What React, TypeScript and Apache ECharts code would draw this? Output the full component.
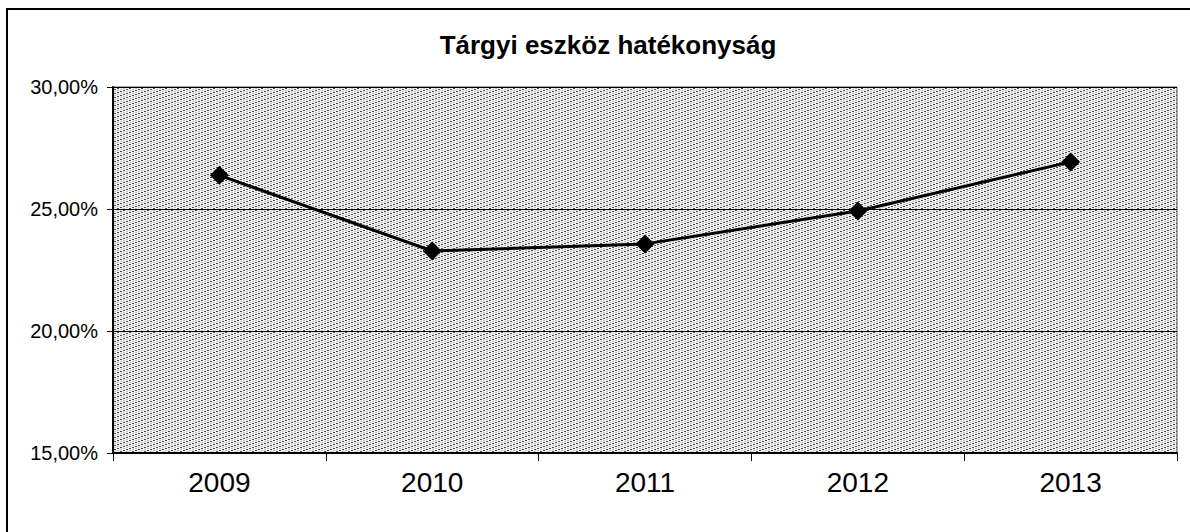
import React, { useEffect, useRef } from "react";
import * as echarts from "echarts";

const title = "Tárgyi eszköz hatékonyság";
const years = ["2009", "2010", "2011", "2012", "2013"];
const values = [26.38, 23.28, 23.57, 24.92, 26.93];
const yMin = 15;
const yMax = 30;
const yStep = 5;

function makePattern(): string {
  const c = document.createElement("canvas");
  c.width = 12;
  c.height = 4;
  const ctx = c.getContext("2d")!;
  ctx.fillStyle = "#f2f2f2";
  ctx.fillRect(0, 0, 12, 4);
  ctx.fillStyle = "#4a4a4a";
  for (let r = 0; r < 4; r++) {
    const x0 = (3 - r) * 3;
    ctx.fillRect(x0, r, 2, 1);
  }
  ctx.fillStyle = "#c0c0c0";
  for (let r = 0; r < 4; r++) {
    const x0 = ((3 - r) * 3 + 6) % 12;
    ctx.fillRect(x0, r, 2, 1);
  }
  return c.toDataURL();
}

export default function App() {
  const ref = useRef<HTMLDivElement>(null);
  useEffect(() => {
    document.body.style.margin = "0";
    const chart = echarts.init(ref.current!, undefined, { renderer: "svg" });
    const pattern = makePattern();
    chart.setOption({
      animation: false,
      backgroundColor: "#ffffff",
      textStyle: { fontFamily: "Liberation Sans, Arial, sans-serif" },
      title: {
        text: title,
        left: 603,
        top: 27,
        textAlign: "center",
        textStyle: { fontSize: 26, fontWeight: "bold", color: "#000", fontFamily: "Liberation Sans, Arial, sans-serif" },
      },
      graphic: [
        {
          type: "rect",
          shape: { x: 7, y: 9, width: 1250, height: 700 },
          style: { fill: "none", stroke: "#000", lineWidth: 2 },
          silent: true,
        },
      ],
      grid: {
        left: 113,
        top: 87,
        right: 13,
        bottom: 79,
        show: true,
        backgroundColor: { image: pattern, repeat: "repeat" },
        borderColor: "#555",
        borderWidth: 1,
      },
      xAxis: {
        type: "category",
        data: years,
        boundaryGap: true,
        axisLine: { show: true, lineStyle: { color: "#000", width: 2 } },
        axisTick: { show: true, length: 8, lineStyle: { color: "#000", width: 1 } },
        axisLabel: { fontSize: 28, color: "#000", margin: 15 },
        splitLine: { show: false },
      },
      yAxis: {
        type: "value",
        min: yMin,
        max: yMax,
        interval: yStep,
        axisLine: { show: true, lineStyle: { color: "#000", width: 2 } },
        axisTick: { show: true, inside: false, length: 6, lineStyle: { color: "#000" } },
        axisLabel: {
          fontSize: 20,
          color: "#000",
          margin: 15,
          formatter: (v: number) => v.toFixed(2).replace(".", ",") + "%",
        },
        splitLine: { show: true, lineStyle: { color: "#000", width: 1 } },
      },
      series: [
        {
          type: "line",
          data: values,
          symbol: "diamond",
          symbolSize: 19,
          lineStyle: { color: "#000", width: 3 },
          itemStyle: { color: "#000" },
        },
      ],
    });
    return () => chart.dispose();
  }, []);
  return <div ref={ref} style={{ width: 1190, height: 532 }} />;
}
